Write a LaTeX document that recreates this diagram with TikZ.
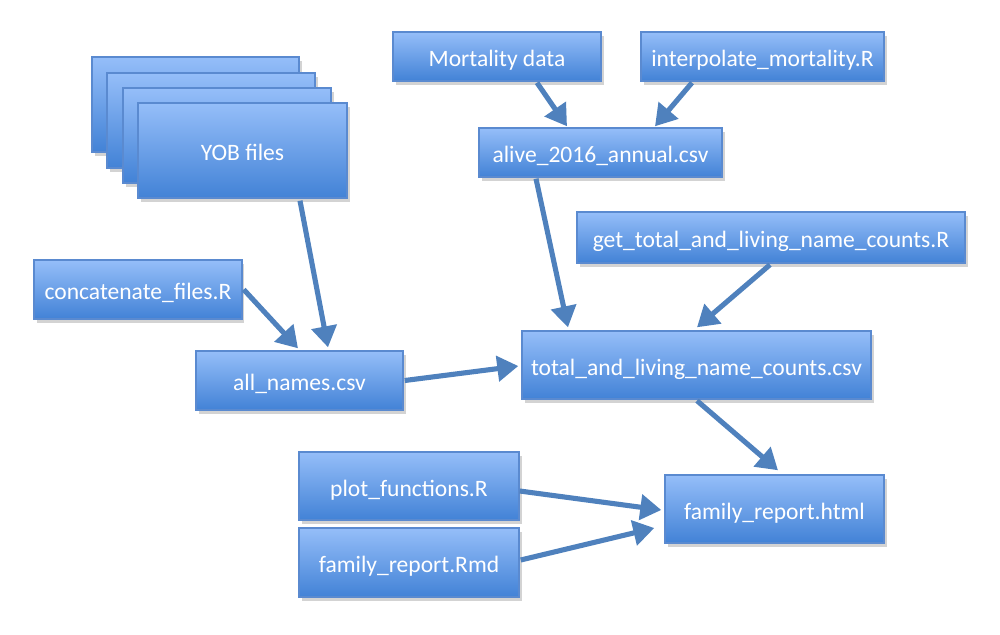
\documentclass[tikz,border=0pt]{standalone}
\usepackage{fontspec}
\setmainfont{Carlito}
\usetikzlibrary{calc,shadows,arrows.meta}

\definecolor{boxtop}{HTML}{95BEF9}
\definecolor{boxbottom}{HTML}{4282D6}
\definecolor{boxline}{HTML}{5A8AD0}
\definecolor{arrowblue}{HTML}{4F81BD}

\tikzset{filebox/.style={rectangle,draw=boxline,line width=0.4pt,top color=boxtop,bottom color=boxbottom,
    text=white,font=\fontsize{6.7}{8}\selectfont,inner sep=0pt,text height=5.7pt,text depth=0pt,
    drop shadow={opacity=0.35,shadow xshift=0.25mm,shadow yshift=-0.35mm}}}
\tikzset{flow/.style={draw=arrowblue,line width=1.45pt,-{Triangle[length=2.1mm,width=2.5mm]}}}

\begin{document}
\begin{tikzpicture}[x=0.1mm,y=-0.1mm]
    \useasboundingbox (0,0) rectangle (1000,634);
    % stack of YOB files
    \node[filebox,minimum width=20.7mm,minimum height=9.5mm] (yob1) at (195.5,104.5) {};
    \node[filebox,minimum width=20.8mm,minimum height=9.5mm] (yob2) at (211,120.5) {};
    \node[filebox,minimum width=20.8mm,minimum height=9.5mm] (yob3) at (227,135.5) {};
    \node[filebox,minimum width=20.9mm,minimum height=9.5mm] (yob) at (242.5,150.5) {YOB files};
    % mortality branch
    \node[filebox,minimum width=20.8mm,minimum height=4.9mm] (mort) at (497,56.5) {Mortality data};
    \node[filebox,minimum width=24.3mm,minimum height=4.9mm] (interp) at (762.5,56.5) {interpolate\_mortality.R};
    \node[filebox,minimum width=24.3mm,minimum height=4.9mm] (alive) at (600.5,152.5) {alive\_2016\_annual.csv};
    \node[filebox,minimum width=38.8mm,minimum height=5.1mm] (gettot) at (771,237.5) {get\_total\_and\_living\_name\_counts.R};
    % names branch
    \node[filebox,minimum width=20.8mm,minimum height=5.9mm] (concat) at (138,289.5) {concatenate\_files.R};
    \node[filebox,minimum width=20.7mm,minimum height=5.9mm] (allnames) at (299.5,380.5) {all\_names.csv};
    \node[filebox,minimum width=34.9mm,minimum height=6.8mm] (total) at (696.5,365) {total\_and\_living\_name\_counts.csv};
    % report
    \node[filebox,minimum width=22mm,minimum height=6.8mm] (plotf) at (409,486) {plot\_functions.R};
    \node[filebox,minimum width=22mm,minimum height=6.9mm] (rmd) at (409,562.5) {family\_report.Rmd};
    \node[filebox,minimum width=21.9mm,minimum height=6.8mm] (html) at (774.5,509) {family\_report.html};

    \draw[flow] ($(yob.south)+(57.5,2)$) -- ($(allnames.north)+(28.5,-3)$);
    \draw[flow] ($(concat.east)+(1,0)$) -- ($(allnames.north)+(-1.5,-2)$);
    \draw[flow] ($(allnames.east)+(1,0)$) -- ($(total.west)+(-3,1)$);
    \draw[flow] ($(mort.south)+(40,1)$) -- ($(alive.north)+(-33.5,-1)$);
    \draw[flow] ($(interp.south)+(-70.5,1)$) -- ($(alive.north)+(54.5,-1)$);
    \draw[flow] ($(alive.south)+(-64.5,1)$) -- ($(total.north)+(-128.5,-3)$);
    \draw[flow] ($(gettot.south)+(-1,1)$) -- ($(total.north)+(0.5,-3)$);
    \draw[flow] ($(total.south)+(0.5,1)$) -- ($(html.north)+(3.5,-4)$);
    \draw[flow] ($(plotf.east)+(0,5)$) -- ($(html.west)+(-3,1)$);
    \draw[flow] ($(rmd.east)+(1,-2.5)$) -- ($(html.west)+(-10,19)$);
  \end{tikzpicture}
\end{document}
